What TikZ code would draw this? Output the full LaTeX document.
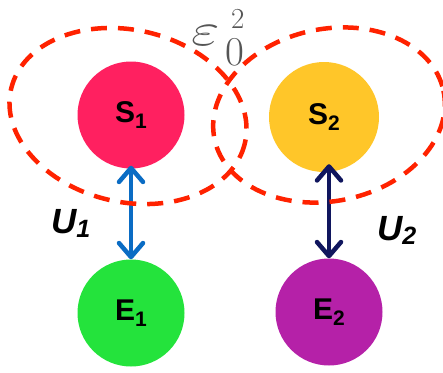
\RequirePackage{fix-cm}
\documentclass[tikz,border=0pt]{standalone}
\usepackage{fontspec}
\setsansfont{Liberation Sans}
\usetikzlibrary{arrows.meta}
\definecolor{sone}{HTML}{FF2060}
\definecolor{stwo}{HTML}{FFC629}
\definecolor{eone}{HTML}{24E33C}
\definecolor{etwo}{HTML}{B521A8}
\definecolor{aone}{HTML}{0A6CC4}
\definecolor{atwo}{HTML}{10165E}
\definecolor{dred}{HTML}{FF2200}
\definecolor{epsgray}{HTML}{555555}
\tikzset{
  ball/.style={circle, minimum size=107pt, inner sep=0pt, font=\sffamily\bfseries\fontsize{30}{30}\selectfont},
  link/.style={line width=4.5pt, {Straight Barb[length=14pt,width=24pt,round]}-{Straight Barb[length=14pt,width=24pt,round]}},
  loop/.style={draw=dred, line width=4.5pt, dash pattern=on 16pt off 11pt},
  ulab/.style={font=\sffamily\bfseries\itshape\fontsize{35}{35}\selectfont, inner sep=0pt}
}
\newcommand{\sbs}[1]{\raisebox{-6pt}{\fontsize{21}{21}\selectfont #1}}
\newcommand{\ubs}[1]{\raisebox{-4pt}{\fontsize{25}{25}\selectfont #1}}
\begin{document}
\begin{tikzpicture}[x=1pt,y=-1pt]
\useasboundingbox (0,0) rectangle (443,372);
\node[ball, fill=sone] (S1) at (131,115) {S\sbs{1}};
\node[ball, fill=stwo, minimum size=110pt] (S2) at (324,117) {S\sbs{2}};
\node[ball, fill=eone] (E1) at (131,313) {E\sbs{1}};
\node[ball, fill=etwo] (E2) at (329,312) {E\sbs{2}};
\draw[link, aone, shorten <=-3pt] (S1.south) -- (E1.north);
\draw[link, atwo, shorten <=-8pt] (E2.north |- S2.south) -- (E2.north);
\draw[loop, rotate around={-13:(128,116)}] (128,116) ellipse [x radius=120, y radius=86];
\draw[loop, rotate around={12:(329,115)}] (329,115) ellipse [x radius=117, y radius=86];
\node[ulab, anchor=base west] (U1) at (51,233) {U\ubs{1}};
\node[ulab, anchor=base west] (U2) at (377,240) {U\ubs{2}};
\node[anchor=base west, inner sep=0pt, text=epsgray] (eps) at (191,45) {\scalebox{1.35}[1]{\fontsize{46}{46}\selectfont$\varepsilon$}\kern6pt\raisebox{-20pt}{\fontsize{41}{41}\selectfont 0}\llap{\raisebox{17pt}{\fontsize{29}{29}\selectfont 2}}};
\end{tikzpicture}
\end{document}
